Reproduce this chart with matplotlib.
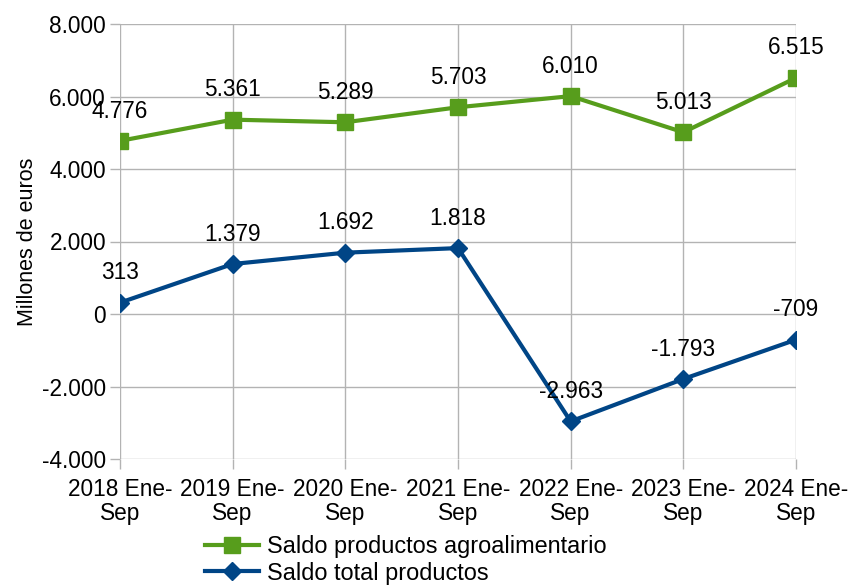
import matplotlib

matplotlib.use("Agg")
import matplotlib.pyplot as plt  # noqa: E402

plt.rcParams["font.family"] = ["Liberation Sans", "DejaVu Sans"]

categories = ["2018 Ene-\nSep", "2019 Ene-\nSep", "2020 Ene-\nSep", "2021 Ene-\nSep",
              "2022 Ene-\nSep", "2023 Ene-\nSep", "2024 Ene-\nSep"]
agro = [4776, 5361, 5289, 5703, 6010, 5013, 6515]
total = [313, 1379, 1692, 1818, -2963, -1793, -709]
yticks = [-4000, -2000, 0, 2000, 4000, 6000, 8000]

GREEN = "#579d1c"
BLUE = "#004586"
GRID = "#b3b3b3"
FS = 16.3


def fmt(v):
    return f"{v:,}".replace(",", ".")


fig = plt.figure(figsize=(8.49, 5.87), dpi=100)
ax = fig.add_axes([120 / 849, 1 - 459 / 587, 676 / 849, 435 / 587])

xs = list(range(len(categories)))
ax.plot(xs, agro, color=GREEN, lw=3, marker="s", ms=12,
        label="Saldo productos agroalimentario", zorder=3)
ax.plot(xs, total, color=BLUE, lw=3, marker="D", ms=9.5,
        label="Saldo total productos", zorder=3)

for series in (agro, total):
    for x, y in zip(xs, series):
        ax.annotate(fmt(y), xy=(x, y), xytext=(0, 21.5), textcoords="offset points",
                    ha="center", va="center", fontsize=FS, zorder=4)

ax.set_xlim(0, len(categories) - 1)
ax.set_ylim(-4000, 8000)
ax.set_yticks(yticks)
ax.set_yticklabels([fmt(v) for v in yticks])
ax.set_xticks(xs)
ax.set_xticklabels(categories, linespacing=1.05)
ax.tick_params(axis="both", labelsize=FS, color=GRID, length=7, width=1)
ax.tick_params(axis="x", pad=7)
ax.tick_params(axis="y", pad=3)
ax.grid(True, color=GRID, lw=1)
ax.set_axisbelow(True)
for s in ax.spines.values():
    s.set_visible(False)
ax.set_ylabel("Millones de euros", fontsize=15.5, labelpad=3)

fig.legend(loc="upper left", bbox_to_anchor=(205 / 849, 1 - 535 / 587),
           frameon=False, fontsize=16.9, handlelength=2.3, handletextpad=0.35,
           labelspacing=0.15, borderpad=0, borderaxespad=0)

fig.savefig("out.png", dpi=100)
